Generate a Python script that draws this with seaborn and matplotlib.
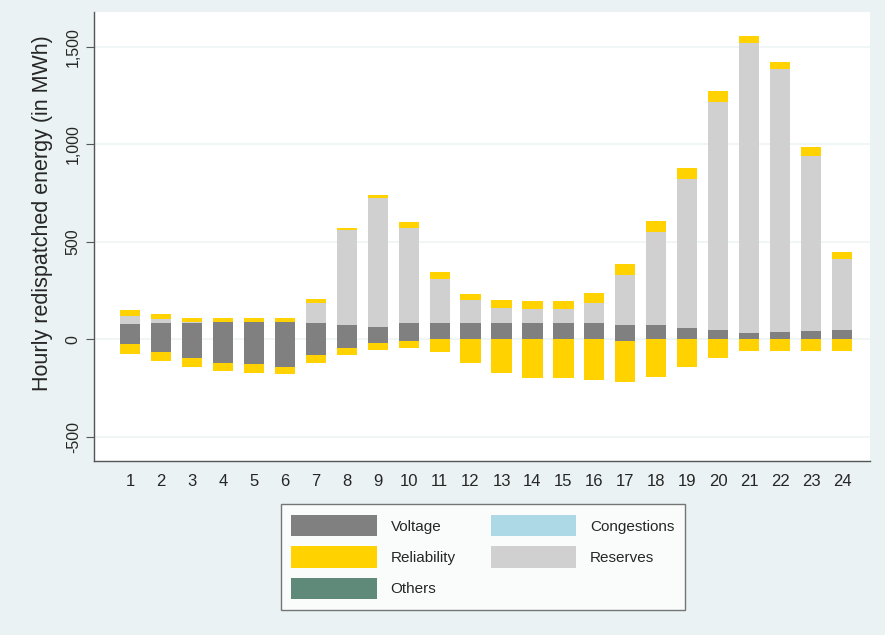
import numpy as np
import pandas as pd
import matplotlib
matplotlib.use("Agg")
import matplotlib.pyplot as plt
import matplotlib.ticker as mticker
from matplotlib.patches import Patch
import seaborn as sns

# hourly values (MWh)
hours = [str(h) for h in range(1, 25)]
voltage_up = [77, 86, 86, 89, 89, 89, 82, 72, 65, 82, 82, 82, 82, 82, 82, 82, 72, 72, 60, 48, 34, 39, 43, 48]
reserves = [41, 20, 3, 2, 2, 2, 106, 489, 660, 491, 229, 120, 80, 72, 72, 103, 257, 481, 763, 1171, 1486, 1347, 898, 363]
reliability_up = [32, 22, 20, 17, 17, 17, 17, 10, 17, 29, 34, 31, 39, 43, 44, 50, 55, 53, 54, 54, 39, 37, 47, 38]
voltage_down = [-22, -65, -94, -120, -128, -140, -82, -43, -20, -9, 0, 0, 0, 0, 0, 0, -8, 0, 0, 0, 0, 0, 0, 0]
reliability_down = [-53, -48, -46, -43, -43, -38, -41, -36, -34, -36, -68, -120, -174, -197, -200, -209, -211, -192, -145, -94, -60, -58, -60, -60]

colors = {
    "Voltage": "#808080",
    "Reliability": "#ffd200",
    "Others": "#5f8a79",
    "Congestions": "#add8e6",
    "Reserves": "#d0d0d0",
}

bg = "#eaf2f3"
sns.set_style("white")
plt.rcParams["font.family"] = ["Liberation Sans", "DejaVu Sans"]

fig = plt.figure(figsize=(8.85, 6.35), dpi=100, facecolor=bg)
ax = fig.add_axes([94 / 885, 1 - 461 / 635, (870 - 94) / 885, (461 - 12) / 635])
ax.set_facecolor("white")

v_up = np.array(voltage_up)
res = np.array(reserves)
v_dn = np.array(voltage_down)

w = 0.65
kw = dict(width=w, saturation=1, ax=ax, zorder=3, linewidth=0)
sns.barplot(x=hours, y=voltage_up, color=colors["Voltage"], **kw)
sns.barplot(x=hours, y=reserves, bottom=v_up, color=colors["Reserves"], **kw)
sns.barplot(x=hours, y=reliability_up, bottom=v_up + res, color=colors["Reliability"], **kw)
sns.barplot(x=hours, y=voltage_down, color=colors["Voltage"], **kw)
sns.barplot(x=hours, y=reliability_down, bottom=v_dn, color=colors["Reliability"], **kw)

ax.set_xlim(-1.16, 23.9)
ax.set_ylim(-625, 1680)
ax.set_yticks([-500, 0, 500, 1000, 1500])
ax.yaxis.set_major_formatter(mticker.FuncFormatter(lambda v, p: f"{int(v):,}"))
ax.grid(axis="y", color="#eef4f4", linewidth=1.2, zorder=0)
ax.set_axisbelow(True)

for s in ["top", "right"]:
    ax.spines[s].set_visible(False)
for s in ["left", "bottom"]:
    ax.spines[s].set_color("#555555")
    ax.spines[s].set_linewidth(1.0)

ax.tick_params(axis="y", length=6, color="#555555", labelsize=11.5, direction="out", left=True)
ax.tick_params(axis="x", length=0, labelsize=12, pad=9, bottom=True)
plt.setp(ax.get_yticklabels(), rotation=90, va="center")
ax.set_xlabel("")
ax.set_ylabel("Hourly redispatched energy (in MWh)", fontsize=15.5)
ax.yaxis.set_label_coords(-0.053, 0.553)

names = ["Voltage", "Reliability", "Others", "Congestions", "Reserves"]
handles = [Patch(facecolor=colors[k], edgecolor="none") for k in names]
leg = fig.legend(handles, names, ncol=2, loc="center", bbox_to_anchor=(483 / 885, 1 - 557 / 635),
                 fontsize=11, frameon=True, fancybox=False, handlelength=5.6, handleheight=1.77,
                 handletextpad=0.9, columnspacing=2.3, labelspacing=0.65, borderpad=0.7,
                 borderaxespad=0)
leg.get_frame().set_edgecolor("#555555")
leg.get_frame().set_linewidth(1.0)

fig.savefig("out.png", dpi=100, facecolor=bg)
